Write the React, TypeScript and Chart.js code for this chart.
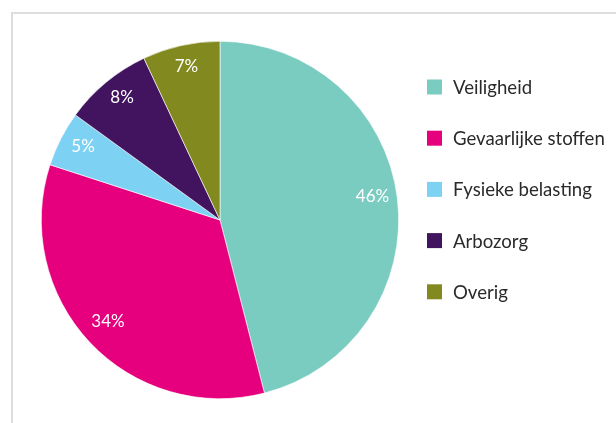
import React, { useEffect, useRef } from "react";
import { Chart, registerables } from "chart.js";

Chart.register(...registerables);

const categories = ["Veiligheid", "Gevaarlijke stoffen", "Fysieke belasting", "Arbozorg", "Overig"];
const values = [46, 34, 5, 8, 7];
const colors = ["#7accc1", "#e6007e", "#7dd1f3", "#42145f", "#81891f"];

const FONT = "Lato, 'Open Sans', sans-serif";

const sliceLabels = {
  id: "sliceLabels",
  afterDatasetsDraw(chart: any) {
    const ctx = chart.ctx;
    const meta = chart.getDatasetMeta(0);
    const data = chart.data.datasets[0].data as number[];
    const total = data.reduce((a, b) => a + b, 0);
    ctx.save();
    ctx.fillStyle = "#ffffff";
    ctx.font = `17px ${FONT}`;
    ctx.textAlign = "center";
    ctx.textBaseline = "middle";
    meta.data.forEach((arc: any, i: number) => {
      const p = arc.getProps(["x", "y", "startAngle", "endAngle", "outerRadius"], true);
      const mid = (p.startAngle + p.endAngle) / 2;
      const r = p.outerRadius * 0.86;
      const pct = Math.round((data[i] / total) * 100);
      ctx.fillText(pct + "%", p.x + Math.cos(mid) * r, p.y + Math.sin(mid) * r - 4);
    });
    ctx.restore();
  },
};

const sideLegend = {
  id: "sideLegend",
  afterDraw(chart: any) {
    const ctx = chart.ctx;
    const labels = chart.data.labels as string[];
    const bg = chart.data.datasets[0].backgroundColor as string[];
    const x0 = 427;
    const y0 = 87;
    const step = 51.2;
    ctx.save();
    ctx.font = `18.6px ${FONT}`;
    ctx.textBaseline = "middle";
    ctx.textAlign = "left";
    labels.forEach((lab, i) => {
      const cy = y0 + i * step;
      ctx.fillStyle = bg[i];
      ctx.fillRect(x0, cy - 7.5, 15, 15);
      ctx.fillStyle = "#2a2a2a";
      ctx.fillText(lab, x0 + 26, cy + 1);
    });
    ctx.restore();
  },
};

export default function App() {
  const ref = useRef<HTMLCanvasElement | null>(null);
  useEffect(() => {
    if (!ref.current) return;
    const chart = new Chart(ref.current, {
      type: "pie",
      data: {
        labels: categories,
        datasets: [
          {
            data: values,
            backgroundColor: colors,
            borderColor: "#ffffff",
            borderWidth: 0.6,
          },
        ],
      },
      options: {
        responsive: false,
        animation: false,
        layout: { padding: { left: 41, top: 41, right: 217, bottom: 24 } },
        plugins: {
          legend: { display: false },
          tooltip: { enabled: false },
        },
      },
      plugins: [sliceLabels, sideLegend],
    });
    return () => chart.destroy();
  }, []);
  return (
    <div style={{ position: "absolute", left: 0, top: 0, width: 616, height: 423, background: "#fff" }}>
      <div
        style={{
          position: "absolute",
          left: 11,
          top: 12,
          right: 0,
          bottom: 0,
          borderLeft: "2px solid #dddddd",
          borderTop: "2px solid #dddddd",
        }}
      />
      <canvas ref={ref} width={616} height={423} style={{ position: "absolute", left: 0, top: 0 }} />
    </div>
  );
}
